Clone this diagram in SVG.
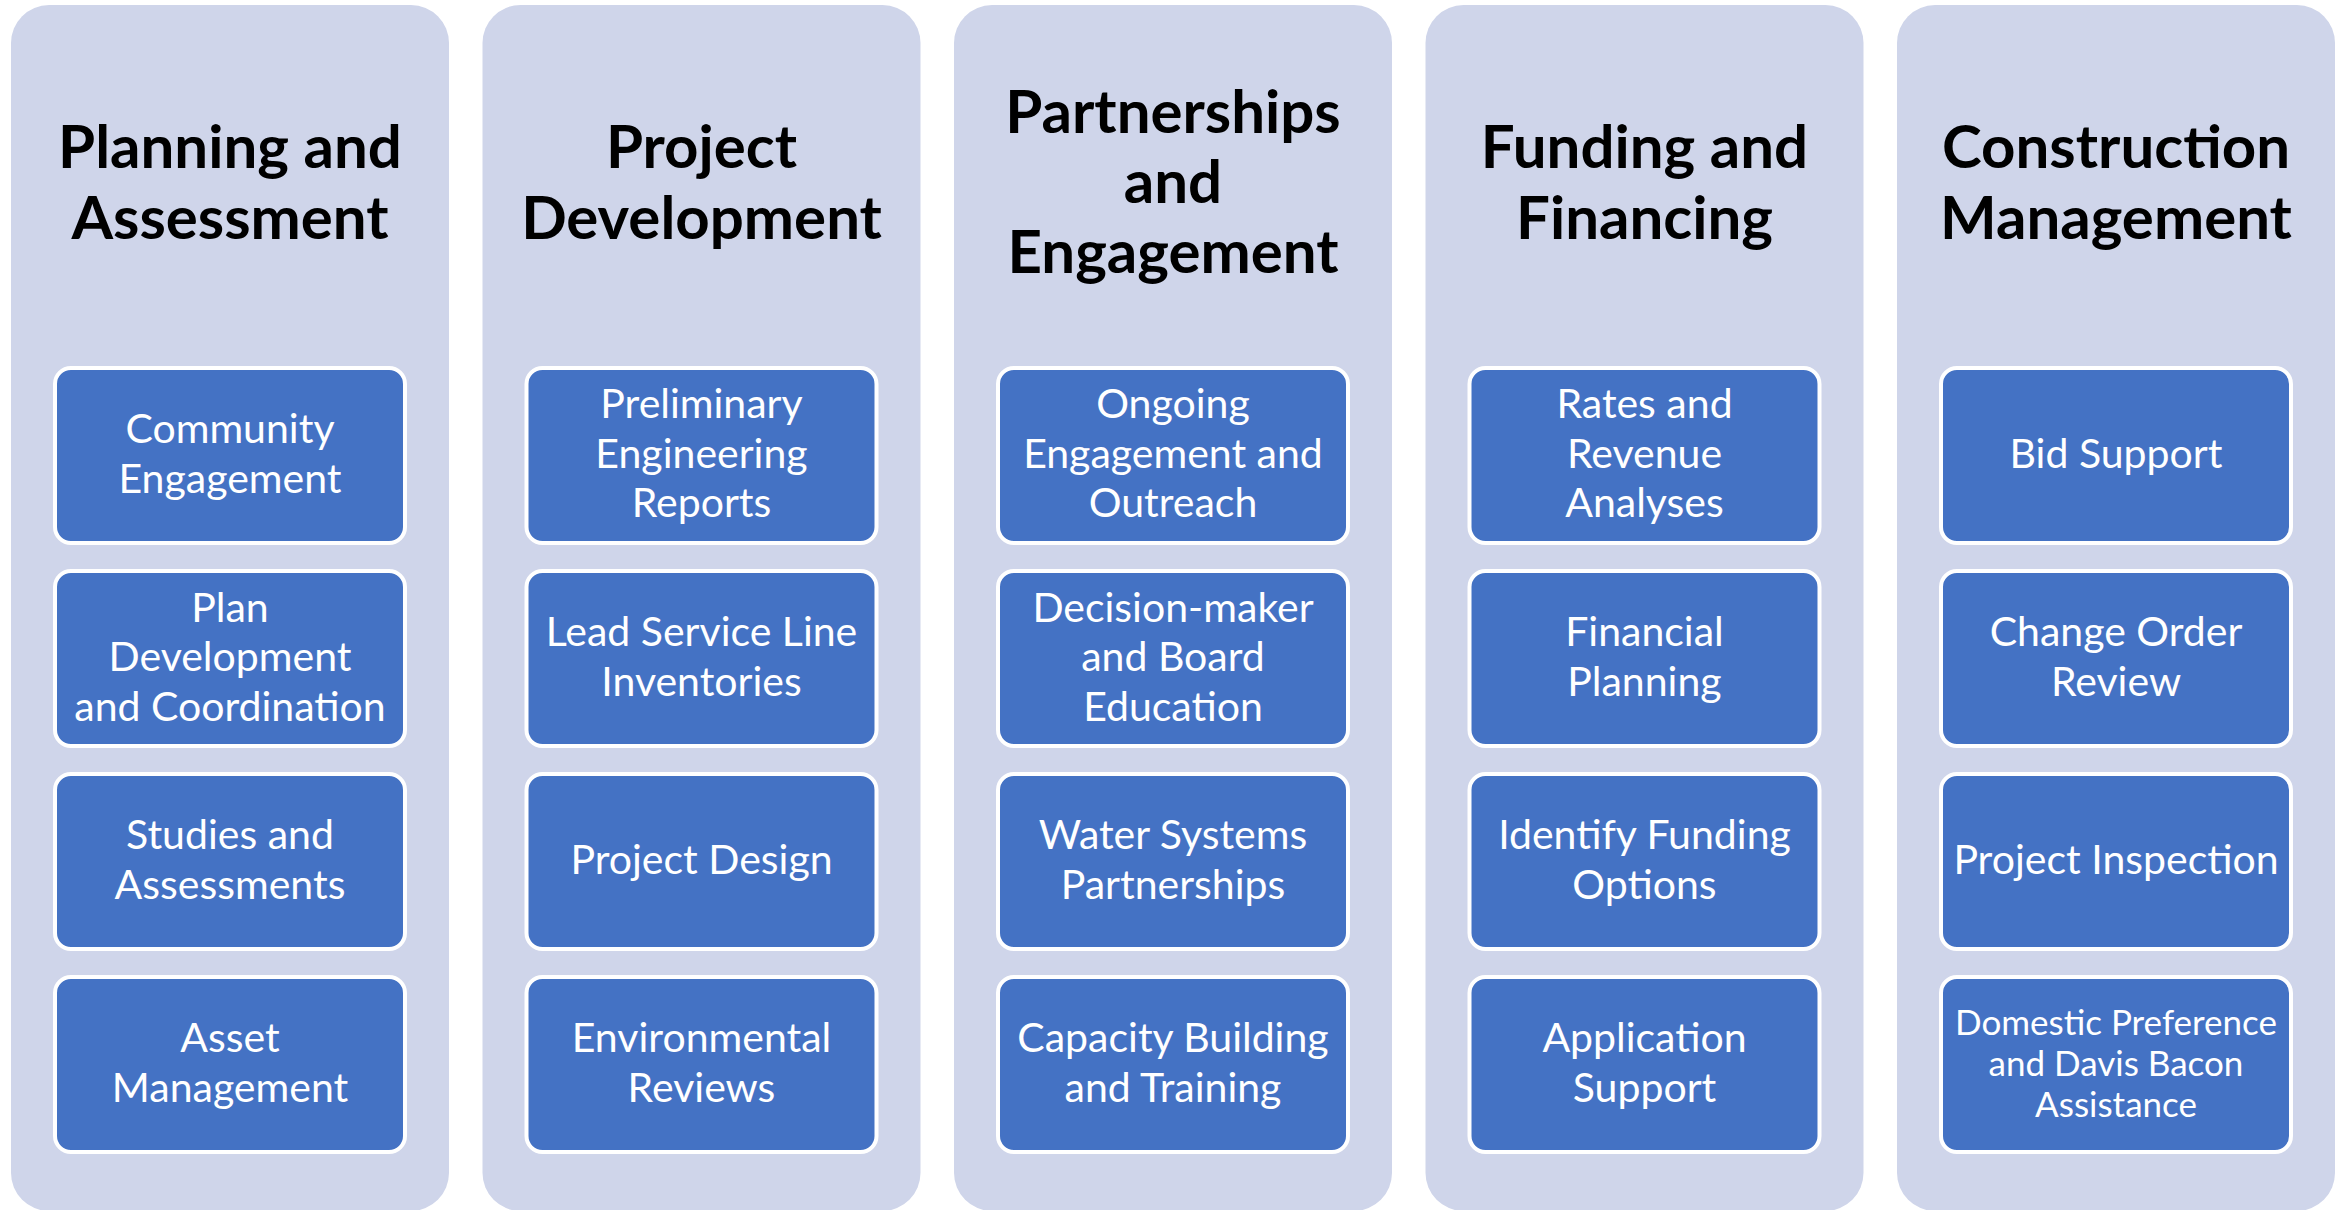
<svg xmlns="http://www.w3.org/2000/svg" width="2348" height="1210" viewBox="0 0 2348 1210">
<style>
.bg{fill:#ffffff}
.col{fill:#CFD5EA}
.box{fill:#4472C4;stroke:#ffffff;stroke-width:4}
.t{font-family:Lato,"Open Sans",sans-serif;font-weight:bold;font-size:60px;fill:#000000;text-anchor:middle}
.b{font-family:Lato,"Open Sans",sans-serif;font-size:41px;fill:#ffffff;text-anchor:middle}
.s{font-size:35px}
</style>
<rect class="bg" x="0" y="0" width="2348" height="1210"/>
<g id="col1">
<rect class="col" x="11" y="5" width="438" height="1206" rx="38"/>
<text class="t" x="230" y="168">Planning and</text>
<text class="t" x="230" y="239">Assessment</text>
</g>
<g id="col2">
<rect class="col" x="482.5" y="5" width="438" height="1206" rx="38"/>
<text class="t" x="701.5" y="168">Project</text>
<text class="t" x="701.5" y="239">Development</text>
</g>
<g id="col3">
<rect class="col" x="954" y="5" width="438" height="1206" rx="38"/>
<text class="t" x="1173" y="133">Partnerships</text>
<text class="t" x="1173" y="203">and</text>
<text class="t" x="1173" y="273">Engagement</text>
</g>
<g id="col4">
<rect class="col" x="1425.5" y="5" width="438" height="1206" rx="38"/>
<text class="t" x="1644.5" y="168">Funding and</text>
<text class="t" x="1644.5" y="239">Financing</text>
</g>
<g id="col5">
<rect class="col" x="1897" y="5" width="438" height="1206" rx="38"/>
<text class="t" x="2116" y="168">Construction</text>
<text class="t" x="2116" y="239">Management</text>
</g>
<g id="connectors"></g>
<!-- column 1 -->
<g id="n1a"><rect class="box" x="55" y="368" width="350" height="175" rx="16"/>
<text class="b" x="230" y="443">Community</text><text class="b" x="230" y="493">Engagement</text></g>
<g id="n1b"><rect class="box" x="55" y="571" width="350" height="175" rx="16"/>
<text class="b" x="230" y="622">Plan</text><text class="b" x="230" y="671">Development</text><text class="b" x="230" y="721">and Coordination</text></g>
<g id="n1c"><rect class="box" x="55" y="774" width="350" height="175" rx="16"/>
<text class="b" x="230" y="849">Studies and</text><text class="b" x="230" y="899">Assessments</text></g>
<g id="n1d"><rect class="box" x="55" y="977" width="350" height="175" rx="16"/>
<text class="b" x="230" y="1052">Asset</text><text class="b" x="230" y="1102">Management</text></g>
<!-- column 2 -->
<g id="n2a"><rect class="box" x="526.5" y="368" width="350" height="175" rx="16"/>
<text class="b" x="701.5" y="418">Preliminary</text><text class="b" x="701.5" y="468">Engineering</text><text class="b" x="701.5" y="517">Reports</text></g>
<g id="n2b"><rect class="box" x="526.5" y="571" width="350" height="175" rx="16"/>
<text class="b" x="701.5" y="646">Lead Service Line</text><text class="b" x="701.5" y="696">Inventories</text></g>
<g id="n2c"><rect class="box" x="526.5" y="774" width="350" height="175" rx="16"/>
<text class="b" x="701.5" y="874">Project Design</text></g>
<g id="n2d"><rect class="box" x="526.5" y="977" width="350" height="175" rx="16"/>
<text class="b" x="701.5" y="1052">Environmental</text><text class="b" x="701.5" y="1102">Reviews</text></g>
<!-- column 3 -->
<g id="n3a"><rect class="box" x="998" y="368" width="350" height="175" rx="16"/>
<text class="b" x="1173" y="418">Ongoing</text><text class="b" x="1173" y="468">Engagement and</text><text class="b" x="1173" y="517">Outreach</text></g>
<g id="n3b"><rect class="box" x="998" y="571" width="350" height="175" rx="16"/>
<text class="b" x="1173" y="622">Decision-maker</text><text class="b" x="1173" y="671">and Board</text><text class="b" x="1173" y="721">Education</text></g>
<g id="n3c"><rect class="box" x="998" y="774" width="350" height="175" rx="16"/>
<text class="b" x="1173" y="849">Water Systems</text><text class="b" x="1173" y="899">Partnerships</text></g>
<g id="n3d"><rect class="box" x="998" y="977" width="350" height="175" rx="16"/>
<text class="b" x="1173" y="1052">Capacity Building</text><text class="b" x="1173" y="1102">and Training</text></g>
<!-- column 4 -->
<g id="n4a"><rect class="box" x="1469.5" y="368" width="350" height="175" rx="16"/>
<text class="b" x="1644.5" y="418">Rates and</text><text class="b" x="1644.5" y="468">Revenue</text><text class="b" x="1644.5" y="517">Analyses</text></g>
<g id="n4b"><rect class="box" x="1469.5" y="571" width="350" height="175" rx="16"/>
<text class="b" x="1644.5" y="646">Financial</text><text class="b" x="1644.5" y="696">Planning</text></g>
<g id="n4c"><rect class="box" x="1469.5" y="774" width="350" height="175" rx="16"/>
<text class="b" x="1644.5" y="849">Identify Funding</text><text class="b" x="1644.5" y="899">Options</text></g>
<g id="n4d"><rect class="box" x="1469.5" y="977" width="350" height="175" rx="16"/>
<text class="b" x="1644.5" y="1052">Application</text><text class="b" x="1644.5" y="1102">Support</text></g>
<!-- column 5 -->
<g id="n5a"><rect class="box" x="1941" y="368" width="350" height="175" rx="16"/>
<text class="b" x="2116" y="468">Bid Support</text></g>
<g id="n5b"><rect class="box" x="1941" y="571" width="350" height="175" rx="16"/>
<text class="b" x="2116" y="646">Change Order</text><text class="b" x="2116" y="696">Review</text></g>
<g id="n5c"><rect class="box" x="1941" y="774" width="350" height="175" rx="16"/>
<text class="b" x="2116" y="874">Project Inspection</text></g>
<g id="n5d"><rect class="box" x="1941" y="977" width="350" height="175" rx="16"/>
<text class="b s" x="2116" y="1035">Domestic Preference</text><text class="b s" x="2116" y="1076">and Davis Bacon</text><text class="b s" x="2116" y="1117">Assistance</text></g>
</svg>
